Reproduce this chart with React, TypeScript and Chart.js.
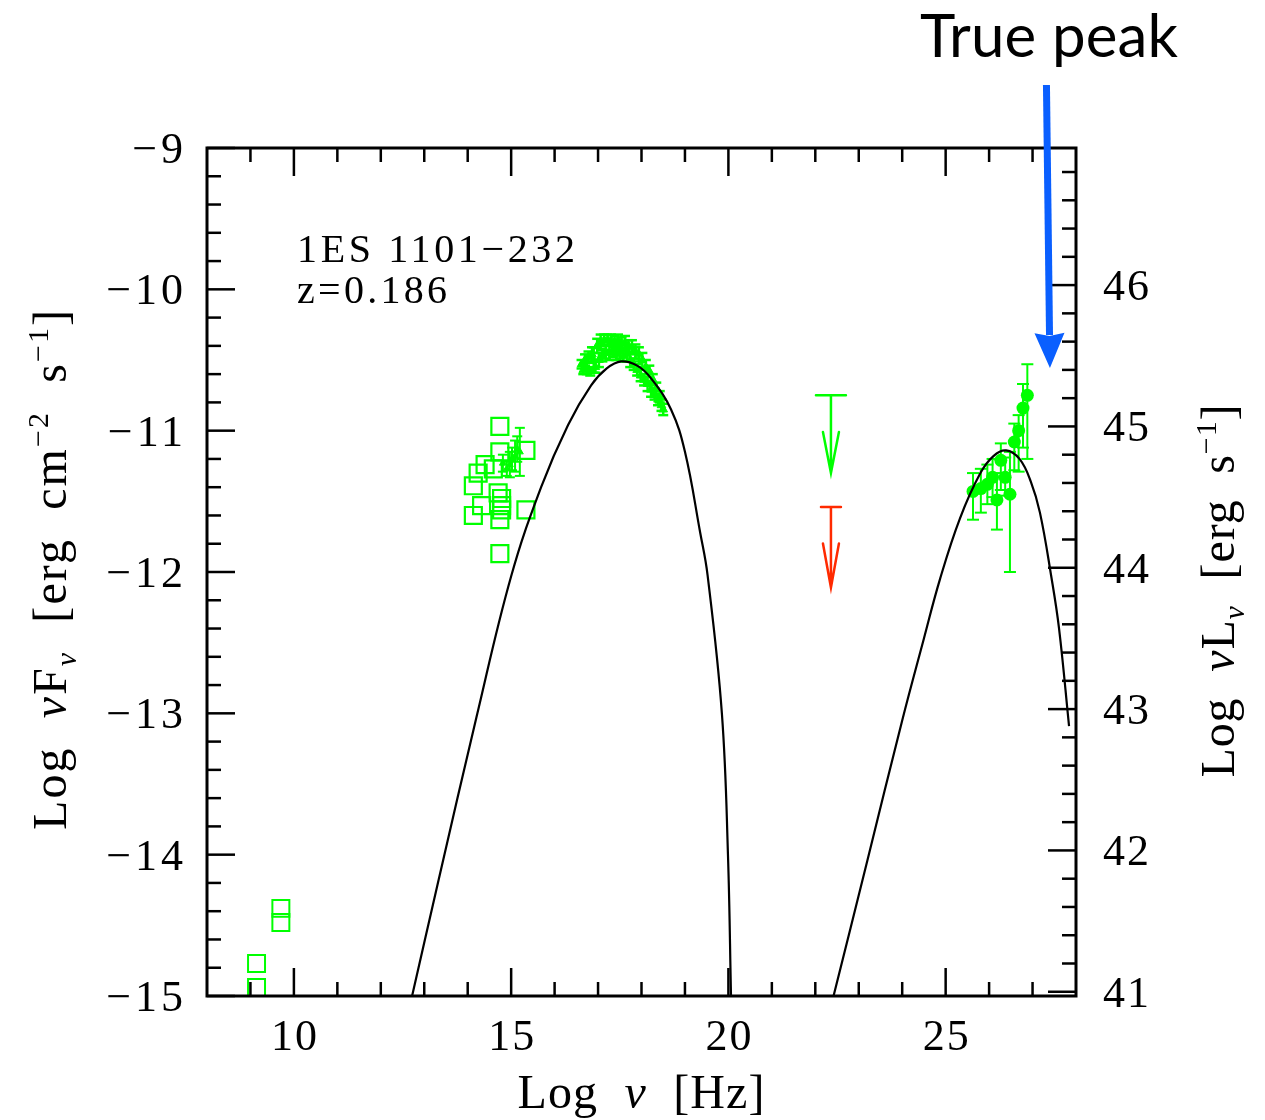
import React, { useEffect, useRef } from "react";
import { Chart, registerables } from "chart.js";

Chart.register(...registerables);

// ---------- axes ----------
const X_MIN = 8;
const X_MAX = 28;
const Y_MIN = -15;
const Y_MAX = -9;
const LUM_OFFSET = 55.97; // Log nuL_nu = Log nuF_nu + offset

const xMajorTicks = [10, 15, 20, 25];
const xMinorTicks = [9, 11, 12, 13, 14, 16, 17, 18, 19, 21, 22, 23, 24, 26, 27];
const yMajorTicks = [-15, -14, -13, -12, -11, -10, -9];
const y2MajorTicks = [41, 42, 43, 44, 45, 46];

// ---------- data ----------
// radio (open squares)
const radioX = [9.14, 9.14, 9.7, 9.7];
const radioY = [-14.94, -14.77, -14.48, -14.38];

// optical (open squares)
const optX = [14.74, 14.74, 15.34, 14.4, 14.24, 14.13, 14.7, 14.78, 14.78, 14.32, 14.78, 14.13, 14.74, 15.34, 14.74, 14.59];
const optY = [-10.97, -11.15, -11.14, -11.24, -11.3, -11.39, -11.44, -11.48, -11.53, -11.53, -11.56, -11.6, -11.63, -11.56, -11.87, -11.27];

// UV (small markers with error bars)
const uvX = [14.81, 14.9, 14.97, 15.02, 15.09, 15.14, 15.2];
const uvY = [-11.23, -11.27, -11.24, -11.2, -11.18, -11.13, -11.15];
const uvErr = [0.06, 0.05, 0.09, 0.08, 0.11, 0.09, 0.17];

// X-ray
const xrayX = [16.62, 16.66, 16.7, 16.74, 16.78, 16.82, 16.86, 16.9, 16.94, 16.98, 17.02, 17.06, 17.1, 17.14, 17.18, 17.22, 17.26, 17.3, 17.34, 17.38, 17.42, 17.46, 17.5, 17.54, 17.58, 17.62, 17.66, 17.7, 17.74, 17.78, 17.82, 17.86, 17.9, 17.94, 17.98, 18.02, 18.06, 18.1, 18.14, 18.18, 18.22, 18.26, 18.3, 18.34, 18.38, 18.42, 18.46, 18.5];
const xrayY = [-10.53, -10.57, -10.5, -10.56, -10.48, -10.58, -10.46, -10.5, -10.55, -10.4, -10.5, -10.37, -10.47, -10.36, -10.44, -10.36, -10.45, -10.36, -10.43, -10.37, -10.46, -10.36, -10.44, -10.38, -10.47, -10.38, -10.46, -10.4, -10.5, -10.41, -10.53, -10.44, -10.57, -10.46, -10.61, -10.5, -10.64, -10.55, -10.67, -10.58, -10.71, -10.64, -10.74, -10.7, -10.78, -10.76, -10.82, -10.85];
const xrayErr = [0.03, 0.03, 0.04, 0.04, 0.04, 0.03, 0.05, 0.09, 0.04, 0.05, 0.05, 0.05, 0.04, 0.04, 0.05, 0.04, 0.05, 0.04, 0.05, 0.04, 0.04, 0.04, 0.05, 0.04, 0.04, 0.05, 0.05, 0.04, 0.05, 0.05, 0.04, 0.05, 0.04, 0.05, 0.04, 0.05, 0.04, 0.05, 0.05, 0.04, 0.05, 0.04, 0.04, 0.04, 0.04, 0.04, 0.04, 0.04];
const xrayXErr = 0.06;

// gamma-ray (filled circles)
const gamX = [25.63, 25.81, 25.96, 26.08, 26.18, 26.27, 26.37, 26.48, 26.58, 26.68, 26.78, 26.88];
const gamY = [-11.43, -11.41, -11.38, -11.33, -11.49, -11.21, -11.33, -11.45, -11.08, -11.0, -10.84, -10.75];
const gamHi = [-11.3, -11.27, -11.24, -11.2, -11.3, -11.09, -11.19, -11.15, -10.95, -10.89, -10.67, -10.53];
const gamLo = [-11.63, -11.58, -11.52, -11.47, -11.7, -11.42, -11.46, -12.0, -11.28, -11.29, -11.12, -11.2];

// upper limits
const ulX = [22.36, 22.36];
const ulY = [-10.75, -11.54];
const ulTip = [-11.3, -12.11];

// model (synchrotron + inverse Compton)
const syncX = [12.72, 13.33, 14.2, 15.0, 15.69, 16.31, 16.84, 17.2, 17.53, 17.9, 18.22, 18.68, 19.0, 19.35, 19.52, 19.85, 19.99, 20.06];
const syncY = [-15.0, -14.18, -13.03, -12.03, -11.4, -10.96, -10.68, -10.56, -10.51, -10.54, -10.63, -10.85, -11.15, -11.72, -12.02, -13.0, -14.0, -15.0];
const icX = [22.42, 23.2, 24.0, 24.5, 24.87, 25.33, 25.8, 26.1, 26.39, 26.7, 26.96, 27.17, 27.43, 27.61, 27.84];
const icY = [-15.0, -14.04, -13.05, -12.47, -12.05, -11.62, -11.3, -11.18, -11.14, -11.2, -11.36, -11.58, -12.03, -12.4, -13.09];

// "True peak" arrow (data coordinates)
const peakArrowX = [27.32, 27.4];
const peakArrowY = [-8.554, -10.557];

// ---------- styles ----------
const GREEN = "#00ff00";
const RED = "#ff2a00";
const BLUE = "#0a5fff";
const SERIF = '"Liberation Serif", "DejaVu Serif", serif';
const UL_COLORS = [GREEN, RED];
const UL_CAP = [15, 10];
const UL_HEAD = [41, 44];

type Part = { t: string; size: number; italic?: boolean; dy?: number };

function drawRich(
  ctx: CanvasRenderingContext2D,
  parts: Part[],
  x: number,
  y: number,
  align: "left" | "center" | "right",
  angle: number,
  fit?: number,
  spacing?: number,
  family: string = SERIF
) {
  ctx.save();
  ctx.translate(x, y);
  if (angle) ctx.rotate(angle);
  ctx.textAlign = "left";
  ctx.textBaseline = "alphabetic";
  const c: any = ctx;
  c.letterSpacing = "0px";
  const font = (p: Part) => `${p.italic ? "italic " : ""}${p.size}px ${family}`;
  let natTotal = 0;
  let nChars = 0;
  parts.forEach((p) => {
    ctx.font = font(p);
    natTotal += ctx.measureText(p.t).width;
    nChars += Array.from(p.t).length;
  });
  let sp = spacing ?? 0;
  if (fit !== undefined) sp = (fit - natTotal) / Math.max(1, nChars - 1);
  c.letterSpacing = `${sp}px`;
  const widths = parts.map((p) => {
    ctx.font = font(p);
    return ctx.measureText(p.t).width;
  });
  const total = widths.reduce((a, b) => a + b, 0) - sp;
  let cx = align === "center" ? -total / 2 : align === "right" ? -total : 0;
  parts.forEach((p, i) => {
    ctx.font = font(p);
    ctx.fillText(p.t, cx, p.dy || 0);
    cx += widths[i];
  });
  ctx.restore();
}

const sedPlugin = {
  id: "sedPlugin",
  beforeDatasetsDraw(chart: any) {
    const { ctx, chartArea } = chart;
    const xs = chart.scales.x;
    const ys = chart.scales.y;
    ctx.save();
    ctx.beginPath();
    ctx.rect(chartArea.left, chartArea.top, chartArea.right - chartArea.left, chartArea.bottom - chartArea.top);
    ctx.clip();
    ctx.strokeStyle = GREEN;
    const seg = (x1: number, y1: number, x2: number, y2: number) => {
      ctx.beginPath();
      ctx.moveTo(x1, y1);
      ctx.lineTo(x2, y2);
      ctx.stroke();
    };
    const vbar = (x: number, hi: number, lo: number, cap: number) => {
      const px = xs.getPixelForValue(x);
      const pt = ys.getPixelForValue(hi);
      const pb = ys.getPixelForValue(lo);
      seg(px, pt, px, pb);
      seg(px - cap, pt, px + cap, pt);
      seg(px - cap, pb, px + cap, pb);
    };
    // X-ray error bars
    ctx.lineWidth = 2.5;
    xrayX.forEach((x, i) => {
      vbar(x, xrayY[i] + xrayErr[i], xrayY[i] - xrayErr[i], 5);
      const py = ys.getPixelForValue(xrayY[i]);
      seg(xs.getPixelForValue(x - xrayXErr), py, xs.getPixelForValue(x + xrayXErr), py);
    });
    // UV error bars
    ctx.lineWidth = 2;
    uvX.forEach((x, i) => {
      vbar(x, uvY[i] + uvErr[i], uvY[i] - uvErr[i], 5);
      const py = ys.getPixelForValue(uvY[i]);
      seg(xs.getPixelForValue(x - 0.05), py, xs.getPixelForValue(x + 0.05), py);
    });
    // gamma error bars
    gamX.forEach((x, i) => vbar(x, gamHi[i], gamLo[i], 6));
    ctx.restore();
  },
  afterDatasetsDraw(chart: any) {
    const { ctx } = chart;
    const xs = chart.scales.x;
    const ys = chart.scales.y;
    ctx.save();
    ctx.lineWidth = 2.5;
    ctx.lineCap = "round";
    ulX.forEach((x, i) => {
      const px = xs.getPixelForValue(x);
      const pt = ys.getPixelForValue(ulY[i]);
      const tip = ys.getPixelForValue(ulTip[i]);
      ctx.strokeStyle = UL_COLORS[i];
      ctx.beginPath();
      ctx.moveTo(px - UL_CAP[i], pt);
      ctx.lineTo(px + UL_CAP[i], pt);
      ctx.moveTo(px, pt);
      ctx.lineTo(px, tip);
      ctx.moveTo(px - 8, tip - UL_HEAD[i]);
      ctx.lineTo(px, tip);
      ctx.lineTo(px + 8, tip - UL_HEAD[i]);
      ctx.stroke();
    });
    ctx.restore();
  },
  afterDraw(chart: any) {
    const { ctx, chartArea } = chart;
    const xs = chart.scales.x;
    const ys = chart.scales.y;
    const y2 = chart.scales.y2;
    const { left, right, top, bottom } = chartArea;
    ctx.save();
    ctx.strokeStyle = "#000";
    ctx.fillStyle = "#000";
    // frame
    ctx.lineWidth = 3;
    ctx.strokeRect(left, top, right - left, bottom - top);
    ctx.lineWidth = 2.5;
    const seg = (x1: number, y1: number, x2: number, y2p: number) => {
      ctx.beginPath();
      ctx.moveTo(x1, y1);
      ctx.lineTo(x2, y2p);
      ctx.stroke();
    };
    const MAJ = 28;
    const MIN = 14;
    // x ticks (bottom + top)
    xMajorTicks.forEach((v) => {
      const p = xs.getPixelForValue(v);
      seg(p, bottom, p, bottom - MAJ);
      seg(p, top, p, top + MAJ);
    });
    xMinorTicks.forEach((v) => {
      const p = xs.getPixelForValue(v);
      seg(p, bottom, p, bottom - MIN);
      seg(p, top, p, top + MIN);
    });
    // left y ticks
    for (let k = Math.round(Y_MIN * 5); k <= Math.round(Y_MAX * 5); k++) {
      const v = k / 5;
      const p = ys.getPixelForValue(v);
      const major = k % 5 === 0;
      seg(left, p, left + (major ? MAJ : MIN), p);
    }
    // right y ticks (luminosity)
    for (let k = Math.ceil(y2.min * 5 - 1e-6); k <= Math.floor(y2.max * 5 + 1e-6); k++) {
      const v = k / 5;
      const p = y2.getPixelForValue(v);
      const major = k % 5 === 0;
      seg(right, p, right - (major ? MAJ : MIN), p);
    }
    // tick labels
    const TS = 44;
    yMajorTicks.forEach((v) => {
      const p = ys.getPixelForValue(v);
      drawRich(ctx, [{ t: `\u2212${Math.abs(v)}`, size: TS }], left - 24, p + 15, "right", 0, undefined, 4);
    });
    y2MajorTicks.forEach((v) => {
      const p = y2.getPixelForValue(v);
      drawRich(ctx, [{ t: `${v}`, size: TS }], right + 27, p + 15, "left", 0, undefined, 2);
    });
    xMajorTicks.forEach((v) => {
      const p = xs.getPixelForValue(v);
      drawRich(ctx, [{ t: `${v}`, size: TS }], p, bottom + 54, "center", 0, undefined, 2);
    });
    // axis titles
    const TT = 48;
    const SS = 30;
    drawRich(
      ctx,
      [
        { t: "Log  ", size: TT },
        { t: "ν", size: TT, italic: true },
        { t: "F", size: TT },
        { t: "ν", size: SS, italic: true, dy: 10 },
        { t: "  [erg  cm", size: TT },
        { t: "\u22122", size: SS, dy: -18 },
        { t: "  s", size: TT },
        { t: "\u22121", size: SS, dy: -18 },
        { t: "]", size: TT },
      ],
      66,
      570,
      "center",
      -Math.PI / 2,
      520
    );
    drawRich(
      ctx,
      [
        { t: "Log  ", size: TT },
        { t: "ν", size: TT, italic: true },
        { t: "L", size: TT },
        { t: "ν", size: SS, italic: true, dy: 10 },
        { t: "  [erg  s", size: TT },
        { t: "\u22121", size: SS, dy: -18 },
        { t: "]", size: TT },
      ],
      1234,
      591,
      "center",
      -Math.PI / 2,
      373
    );
    drawRich(
      ctx,
      [
        { t: "Log  ", size: TT },
        { t: "ν", size: TT, italic: true },
        { t: "  [Hz]", size: TT },
      ],
      641,
      1108,
      "center",
      0,
      247
    );
    // source label
    drawRich(ctx, [{ t: "1ES 1101\u2212232", size: 40 }], 297, 262, "left", 0, 278);
    drawRich(ctx, [{ t: "z=0.186", size: 40 }], 297, 303, "left", 0, 150);
    // True peak annotation
    drawRich(ctx, [{ t: "True peak", size: 60 }], 920, 57, "left", 0, 258, undefined, '"Lato", "Open Sans", sans-serif');
    const ax1 = xs.getPixelForValue(peakArrowX[0]);
    const ay1 = ys.getPixelForValue(peakArrowY[0]);
    const ax2 = xs.getPixelForValue(peakArrowX[1]);
    const ay2 = ys.getPixelForValue(peakArrowY[1]);
    const headLen = 35;
    const headHalf = 15;
    const ang = Math.atan2(ay2 - ay1, ax2 - ax1);
    const bx = ax2 - headLen * Math.cos(ang);
    const by = ay2 - headLen * Math.sin(ang);
    ctx.strokeStyle = BLUE;
    ctx.fillStyle = BLUE;
    ctx.lineWidth = 7;
    ctx.lineCap = "butt";
    ctx.beginPath();
    ctx.moveTo(ax1, ay1);
    ctx.lineTo(bx + 2 * Math.cos(ang), by + 2 * Math.sin(ang));
    ctx.stroke();
    ctx.beginPath();
    ctx.moveTo(ax2, ay2);
    ctx.lineTo(bx - headHalf * Math.sin(ang), by + headHalf * Math.cos(ang));
    ctx.lineTo(bx + 3 * Math.cos(ang), by + 3 * Math.sin(ang));
    ctx.lineTo(bx + headHalf * Math.sin(ang), by - headHalf * Math.cos(ang));
    ctx.closePath();
    ctx.fill();
    ctx.restore();
  },
};

const pts = (xs: number[], ys: number[]) => xs.map((x, i) => ({ x, y: ys[i] }));

export default function App() {
  const canvasRef = useRef<HTMLCanvasElement | null>(null);

  useEffect(() => {
    if (!canvasRef.current) return;
    const chart = new Chart(canvasRef.current, {
      type: "scatter",
      data: {
        datasets: [
          {
            label: "Synchrotron model",
            data: pts(syncX, syncY),
            showLine: true,
            borderColor: "#000",
            borderWidth: 2.2,
            pointRadius: 0,
            tension: 0.4,
            order: 0,
          } as any,
          {
            label: "Inverse Compton model",
            data: pts(icX, icY),
            showLine: true,
            borderColor: "#000",
            borderWidth: 2.2,
            pointRadius: 0,
            tension: 0.4,
            order: 0,
          } as any,
          {
            label: "Radio",
            data: pts(radioX, radioY),
            pointStyle: "rect",
            pointRadius: 12,
            borderWidth: 2,
            borderColor: GREEN,
            backgroundColor: "rgba(0,0,0,0)",
            order: 2,
          },
          {
            label: "Optical",
            data: pts(optX, optY),
            pointStyle: "rect",
            pointRadius: 12,
            borderWidth: 2.2,
            borderColor: GREEN,
            backgroundColor: "rgba(0,0,0,0)",
            order: 2,
          },
          {
            label: "UV",
            data: pts(uvX, uvY),
            pointStyle: "triangle",
            pointRadius: 4,
            borderWidth: 1,
            borderColor: GREEN,
            backgroundColor: GREEN,
            order: 3,
          },
          {
            label: "X-ray",
            data: pts(xrayX, xrayY),
            pointStyle: "triangle",
            pointRadius: 5,
            borderWidth: 1,
            borderColor: GREEN,
            backgroundColor: GREEN,
            order: 3,
          },
          {
            label: "Gamma-ray",
            data: pts(gamX, gamY),
            pointStyle: "circle",
            pointRadius: 6.5,
            borderWidth: 0,
            borderColor: GREEN,
            backgroundColor: GREEN,
            order: 3,
          },
        ],
      },
      options: {
        responsive: false,
        animation: false,
        devicePixelRatio: 1,
        layout: { padding: { left: 207, right: 1265 - 1076, top: 148, bottom: 1120 - 996 } },
        plugins: { legend: { display: false }, tooltip: { enabled: false }, title: { display: false } },
        scales: {
          x: { type: "linear", min: X_MIN, max: X_MAX, display: false },
          y: { type: "linear", min: Y_MIN, max: Y_MAX, display: false },
          y2: { type: "linear", position: "right", min: Y_MIN + LUM_OFFSET, max: Y_MAX + LUM_OFFSET, display: false },
        },
      },
      plugins: [sedPlugin],
    });
    return () => chart.destroy();
  }, []);

  return (
    <div style={{ position: "absolute", left: 0, top: 0, width: 1265, height: 1120, background: "#fff" }}>
      <canvas ref={canvasRef} width={1265} height={1120} style={{ display: "block" }} />
    </div>
  );
}
